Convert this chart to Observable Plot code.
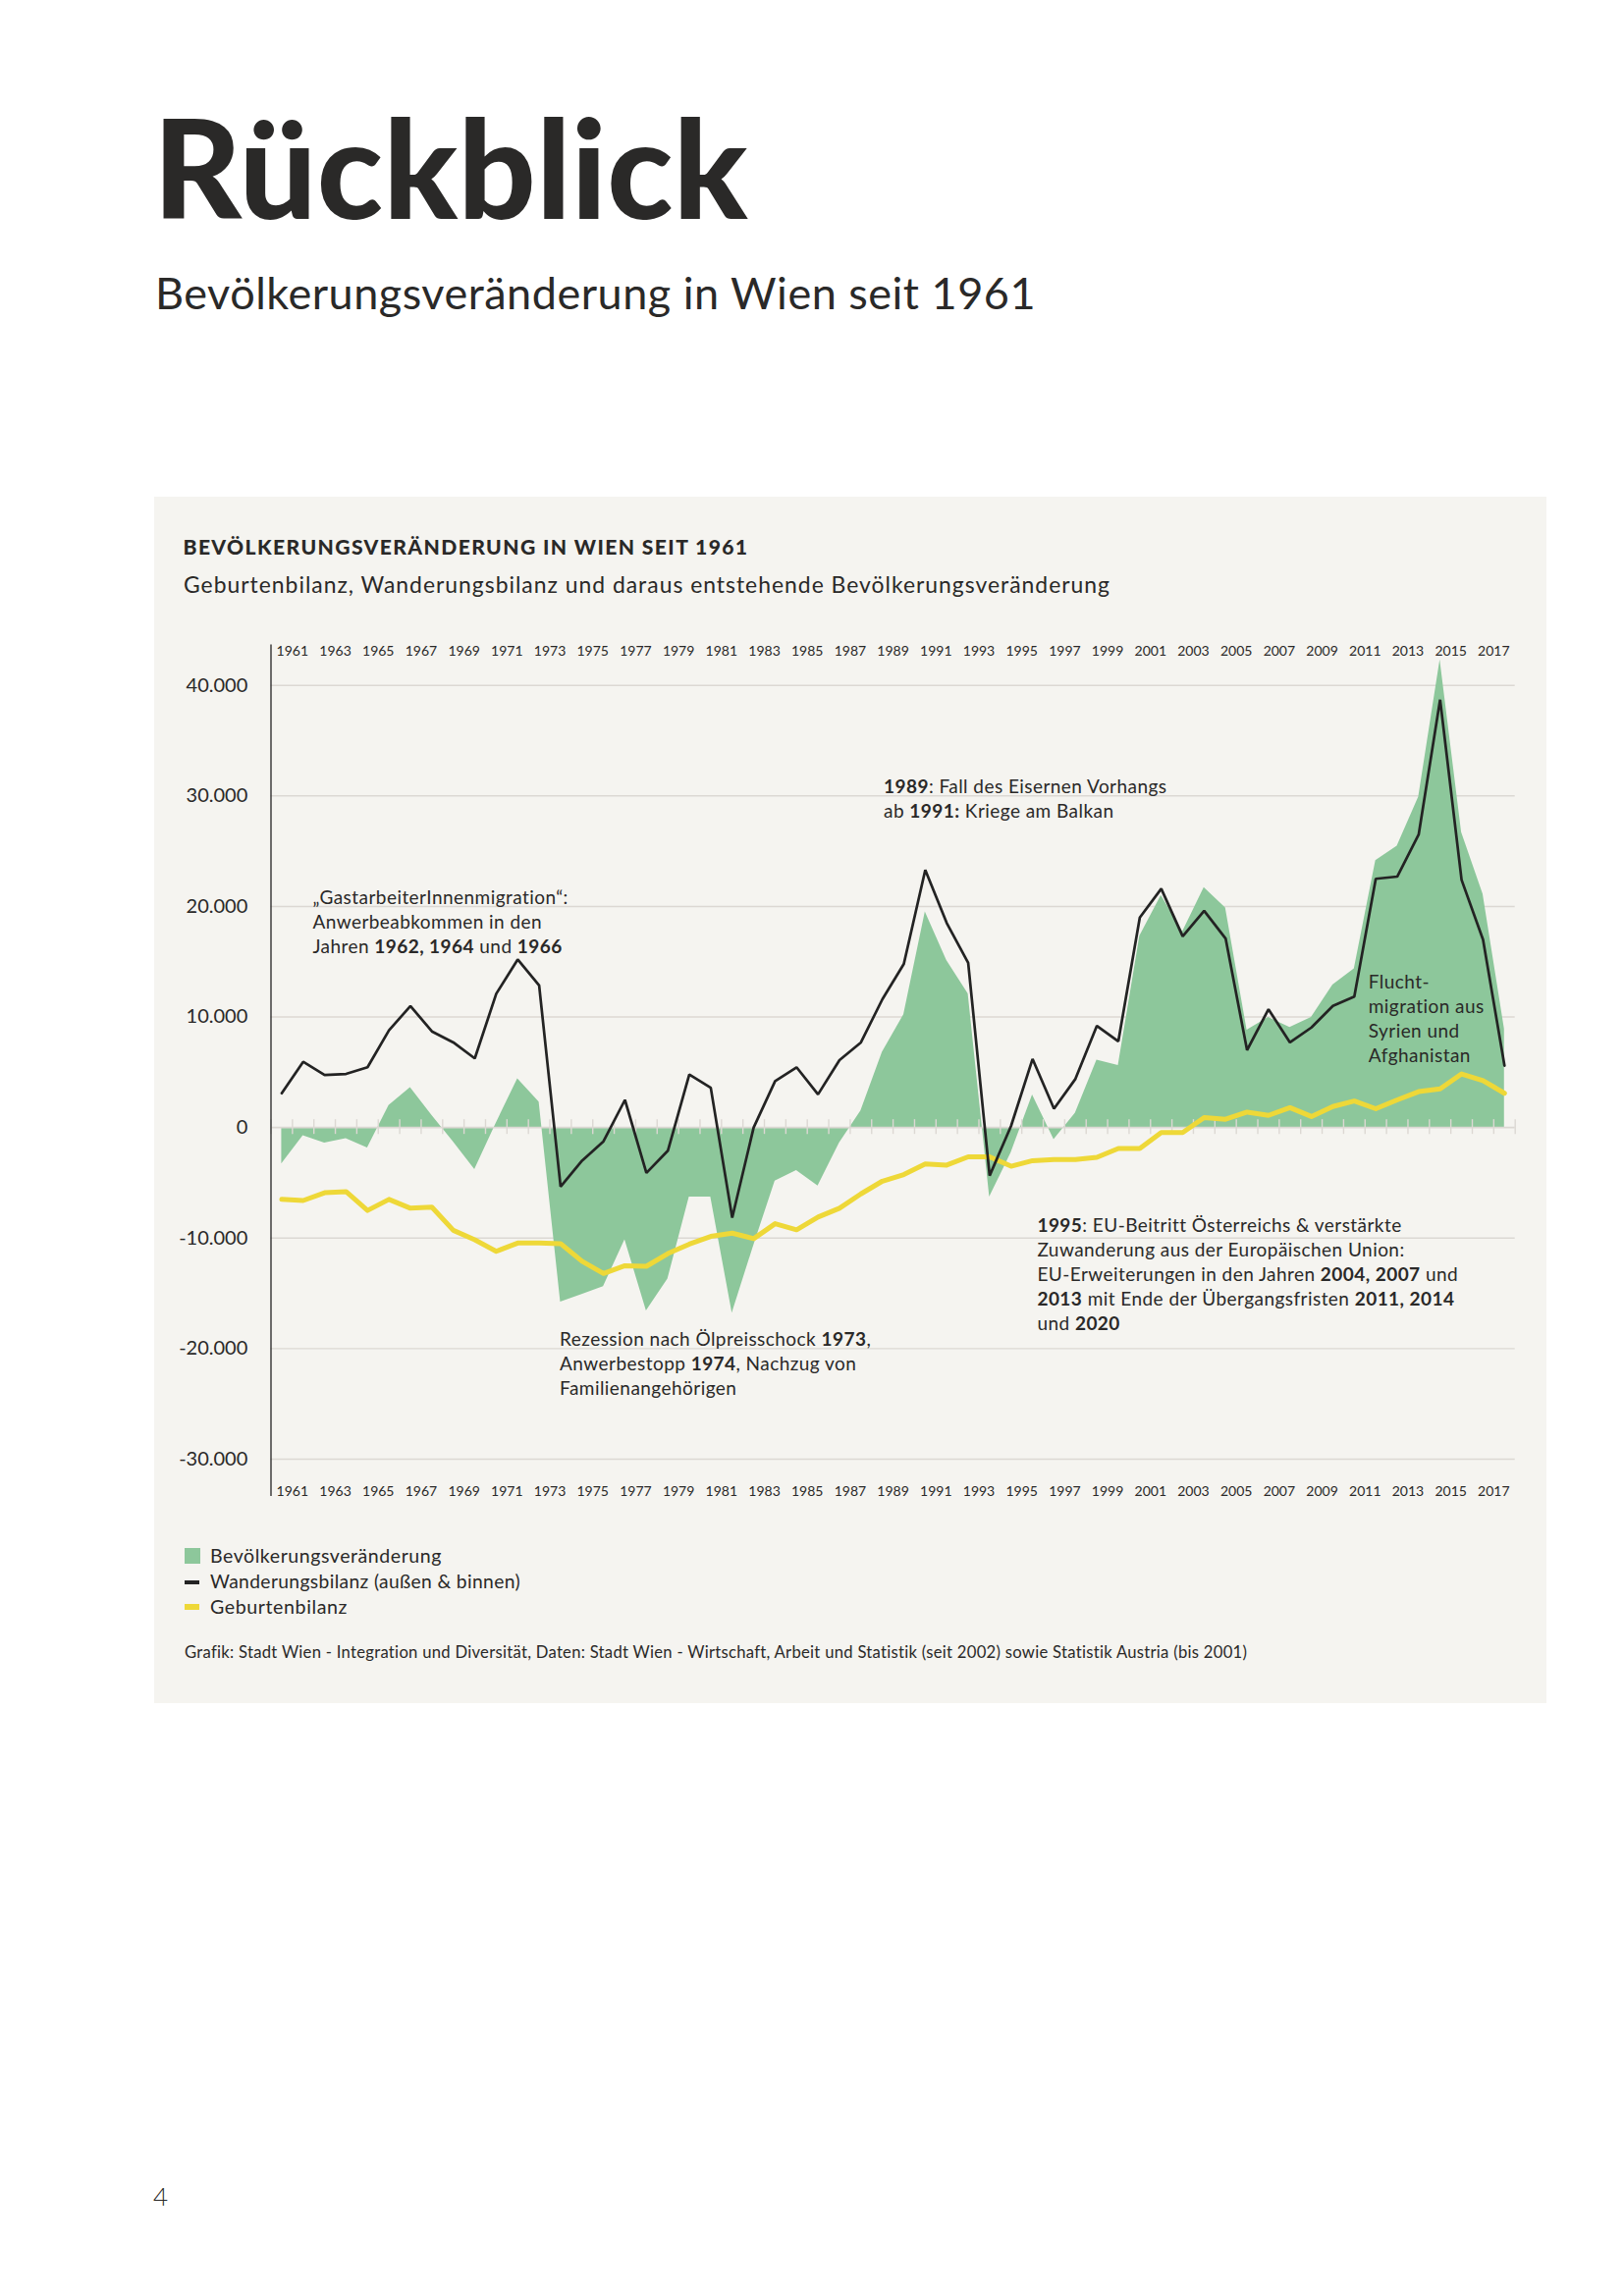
<!DOCTYPE html>
<html><head><meta charset="utf-8">
<script src="https://cdn.jsdelivr.net/npm/d3@7"></script>
<script src="https://cdn.jsdelivr.net/npm/@observablehq/plot@0.6"></script>
<style>
html,body{margin:0;padding:0;background:#fff;}
body{width:1654px;height:2339px;position:relative;font-family:Lato,sans-serif;color:#2a2928;overflow:hidden}
.abs{position:absolute;white-space:nowrap;line-height:1;display:inline-block}
#panel{position:absolute;left:157px;top:506px;width:1418px;height:1229px;background:#f5f4f0}
#chart{position:absolute;left:0;top:120px}
.sw{position:absolute}
</style></head><body>
<div id="title" class="abs" style="font-size:138px;font-weight:900">Rückblick</div>
<div id="subtitle" class="abs" style="font-size:44px;font-weight:400">Bevölkerungsveränderung in Wien seit 1961</div>
<div id="panel">
  <div id="ptitle" class="abs" style="font-size:19px;font-weight:900">BEVÖLKERUNGSVERÄNDERUNG IN WIEN SEIT 1961</div>
  <div id="psub" class="abs" style="font-size:21px;font-weight:400">Geburtenbilanz, Wanderungsbilanz und daraus entstehende Bevölkerungsveränderung</div>
  <div id="chart"></div>
  <div class="sw" style="left:31px;top:1071px;width:16px;height:16px;background:#8dc79b"></div>
  <div class="sw" style="left:31px;top:1104px;width:15px;height:4px;background:#232323"></div>
  <div class="sw" style="left:31px;top:1128px;width:15px;height:6px;background:#eed838"></div>
  <div id="l1" class="abs" style="font-size:18.5px">Bevölkerungsveränderung</div>
  <div id="l2" class="abs" style="font-size:18.5px">Wanderungsbilanz (außen &amp; binnen)</div>
  <div id="l3" class="abs" style="font-size:18.5px">Geburtenbilanz</div>
  <div id="cap" class="abs" style="font-size:16px">Grafik: Stadt Wien - Integration und Diversität, Daten: Stadt Wien - Wirtschaft, Arbeit und Statistik (seit 2002) sowie Statistik Austria (bis 2001)</div>
</div>
<div id="pnum" class="abs" style="font-size:26px;font-weight:300">4</div>
<script>
// ---- data ----
const years = [1961,1962,1963,1964,1965,1966,1967,1968,1969,1970,1971,1972,1973,1974,1975,1976,1977,1978,1979,1980,
  1981,1982,1983,1984,1985,1986,1987,1988,1989,1990,1991,1992,1993,1994,1995,1996,1997,1998,1999,2000,
  2001,2002,2003,2004,2005,2006,2007,2008,2009,2010,2011,2012,2013,2014,2015,2016,2017,2018];
// Bevölkerungsveränderung (green area)
const bevoelkerung = [-3300,-750,-1400,-1000,-1850,2000,3600,1100,-1300,-3800,400,4400,2300,-15800,-15100,-14400,-10150,-16600,-13700,-6300,
  -6300,-16800,-10700,-4850,-3900,-5300,-1400,1500,6800,10200,19500,15100,12100,-6300,-2300,2950,-1100,1300,6100,5600,
  17300,21000,17700,21700,19850,8800,9950,9050,9950,12900,14350,24150,25450,29900,42300,26700,21100,8900];
// Wanderungsbilanz (black line)
const wanderung = [3100,5950,4750,4850,5450,8800,11000,8700,7700,6250,12100,15200,12850,-5350,-3000,-1250,2500,-4100,-2100,4800,
  3600,-8150,0,4200,5450,3000,6100,7700,11600,14800,23300,18500,14900,-4350,150,6200,1700,4400,9200,7800,
  19000,21600,17300,19600,17100,7000,10700,7700,9050,11000,11850,22500,22700,26500,38700,22400,17000,5600];
// Geburtenbilanz (yellow line)
const geburten = [-6500,-6600,-5900,-5800,-7500,-6500,-7300,-7200,-9300,-10150,-11200,-10450,-10450,-10500,-12100,-13200,-12500,-12550,-11400,-10550,
  -9850,-9550,-10050,-8700,-9250,-8100,-7300,-6000,-4850,-4250,-3300,-3400,-2650,-2650,-3500,-3000,-2900,-2900,-2700,-1900,
  -1900,-450,-450,900,750,1400,1100,1800,1000,1900,2400,1700,2500,3250,3500,4850,4250,3100];
const xLabelYears = [1961,1963,1965,1967,1969,1971,1973,1975,1977,1979,1981,1983,1985,1987,1989,1991,1993,1995,1997,1999,
  2001,2003,2005,2007,2009,2011,2013,2015,2017];
const yTicks = [-30000,-20000,-10000,0,10000,20000,30000,40000];
const annotations = [
  {x: 1961.94, y: 21800, text: "„GastarbeiterInnenmigration“:\nAnwerbeabkommen in den\nJahren **1962, 1964** und **1966**"},
  {x: 1988.56, y: 31780, text: "**1989**: Fall des Eisernen Vorhangs\nab **1991:** Kriege am Balkan"},
  {x: 2011.16, y: 14160, text: "Flucht-\nmigration aus\nSyrien und\nAfghanistan"},
  {x: 1995.72, y: -7890, text: "**1995**: EU-Beitritt Österreichs & verstärkte\nZuwanderung aus der Europäischen Union:\nEU-Erweiterungen in den Jahren **2004, 2007** und\n**2013** mit Ende der Übergangsfristen **2011, 2014**\nund **2020**"},
  {x: 1973.46, y: -18160, text: "Rezession nach Ölpreisschock **1973**,\nAnwerbestopp **1974**, Nachzug von\nFamilienangehörigen"}
];

const rows = years.map((year, i) => ({year, pop: bevoelkerung[i], wander: wanderung[i], birth: geburten[i]}));
const yearTicks = d3.range(1960, 2019);
const fmt = d3.formatLocale({decimal: ",", thousands: ".", grouping: [3], currency: ["", "€"], minus: "-"}).format(",");

const GREEN = "#8dc79b", YELLOW = "#eed838", BLACK = "#232323", GRID = "#dcd8d3";
const xpos = d => d.year - 0.5;

const chart = Plot.plot({
  width: 1418, height: 920,
  marginLeft: 118.5, marginRight: 32.3, marginTop: 30.5, marginBottom: 22,
  x: {domain: [1960, 2018], axis: null},
  y: {domain: [-33374, 43658], axis: null},
  style: {background: "transparent", fontFamily: "Lato, sans-serif", color: "#2a2928", overflow: "visible"},
  marks: [
    Plot.ruleY(yTicks.filter(d => d !== 0), {stroke: GRID, strokeWidth: 1.4}),
    Plot.areaY(rows, {x: xpos, y: "pop", fill: GREEN}),
    Plot.ruleY([0], {stroke: GRID, strokeWidth: 1.6}),
    Plot.ruleX(yearTicks, {x: d => d, y1: 0, y2: 0, insetTop: -8, insetBottom: -7, stroke: GRID, strokeWidth: 1.4}),
    Plot.lineY(rows, {x: xpos, y: "birth", stroke: YELLOW, strokeWidth: 5, strokeLinejoin: "round"}),
    Plot.lineY(rows, {x: xpos, y: "wander", stroke: BLACK, strokeWidth: 2.7, strokeLinejoin: "miter"}),
    Plot.ruleX([1960], {stroke: BLACK, strokeWidth: 1.3}),
    Plot.text(xLabelYears, {x: d => d, text: d => String(d), frameAnchor: "top", dy: 6.2, lineAnchor: "middle", fontSize: 14, fill: "#2a2928"}),
    Plot.text(xLabelYears, {x: d => d, text: d => String(d), frameAnchor: "bottom", dy: -5, lineAnchor: "middle", fontSize: 14, fill: "#2a2928"}),
    Plot.text(yTicks, {y: d => d, frameAnchor: "left", dx: -23.7, textAnchor: "end", lineAnchor: "middle", text: d => fmt(d), fontSize: 20, fill: "#2a2928"}),
    Plot.text(annotations, {x: "x", y: "y", text: "text", textAnchor: "start", lineAnchor: "top", fontSize: 19, lineHeight: 1.31, fill: "#2a2928"})
  ]
});
document.getElementById("chart").appendChild(chart);

// annotation letter spacing to match the wider original typeface
chart.querySelectorAll("g[aria-label='text']").forEach((g, i, all) => {
  if (i === all.length - 1) g.setAttribute("letter-spacing", "0.45");
});

// bold segments marked with **
chart.querySelectorAll("text, tspan").forEach(el => {
  for (const node of Array.from(el.childNodes)) {
    if (node.nodeType === 3 && node.nodeValue.includes("**")) {
      const parts = node.nodeValue.split("**");
      const frag = document.createDocumentFragment();
      parts.forEach((p, i) => {
        if (!p) return;
        const t = document.createElementNS("http://www.w3.org/2000/svg", "tspan");
        if (i % 2 === 1) t.setAttribute("font-weight", "700");
        t.textContent = p;
        frag.appendChild(t);
      });
      el.replaceChild(frag, node);
    }
  }
});

// place html text by baseline (coords relative to offset parent) and optionally fit width
function place(id, left, baseline, width) {
  const el = document.getElementById(id);
  el.style.left = left + "px";
  el.style.top = "0px";
  if (width) {
    const fs = parseFloat(el.style.fontSize);
    const w0 = el.getBoundingClientRect().width;
    const s = Math.sqrt(width / w0);
    el.style.fontSize = (fs * s) + "px";
    const w = el.getBoundingClientRect().width;
    const n = el.textContent.length;
    el.style.letterSpacing = ((width - w) / n) + "px";
  }
  const probe = document.createElement("span");
  probe.style.cssText = "display:inline-block;width:0;height:0;vertical-align:baseline";
  el.appendChild(probe);
  const base = probe.getBoundingClientRect().top - el.getBoundingClientRect().top;
  el.removeChild(probe);
  el.style.top = (baseline - base) + "px";
}
place("title", 156, 222.7, 606);
place("subtitle", 158, 314.5, 897);
place("ptitle", 29.5, 59, 576);
place("psub", 30, 98, 944);
place("l1", 57, 1086.2, 236);
place("l2", 57, 1112.2, 316);
place("l3", 57, 1137.6, 140);
place("cap", 31, 1183, 1083);
place("pnum", 156, 2246.7);
</script>
</body></html>
